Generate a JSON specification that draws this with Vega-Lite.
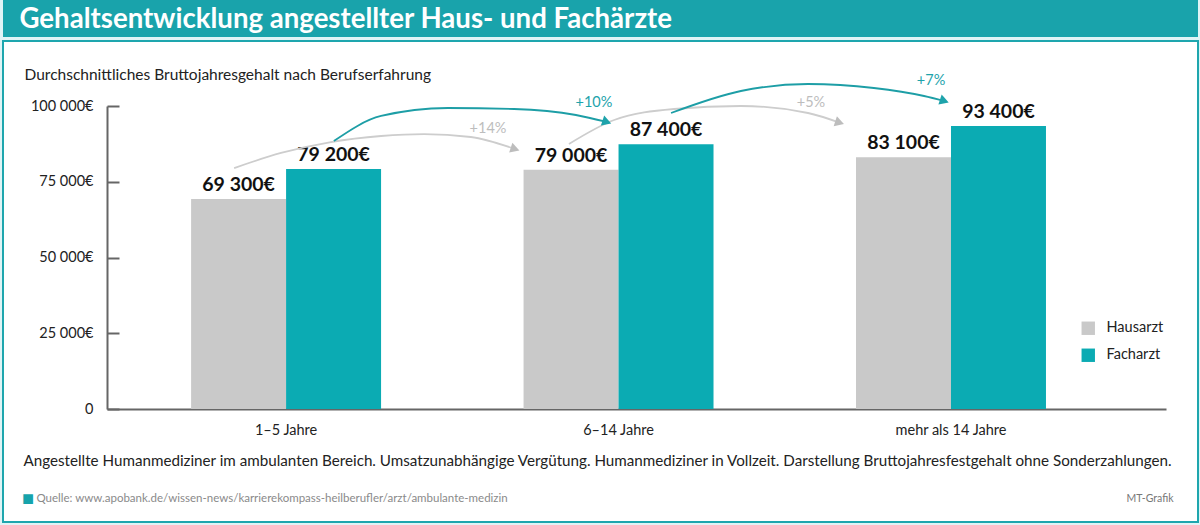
{
  "$schema": "https://vega.github.io/schema/vega-lite/v6.json",
  "background": "#dff4f6",
  "padding": {"left": 2, "right": 3, "top": 0, "bottom": 4},
  "spacing": 3,
  "config": {
    "font": "Lato",
    "locale": {"number": {"decimal": ",", "thousands": " ", "grouping": [3], "currency": ["", "€"]}},
    "view": {"stroke": null}
  },
  "datasets": {
    "gehalt": [
      {"erfahrung": "1–5 Jahre", "arzt": "Hausarzt", "euro": 69300},
      {"erfahrung": "1–5 Jahre", "arzt": "Facharzt", "euro": 79200},
      {"erfahrung": "6–14 Jahre", "arzt": "Hausarzt", "euro": 79000},
      {"erfahrung": "6–14 Jahre", "arzt": "Facharzt", "euro": 87400},
      {"erfahrung": "mehr als 14 Jahre", "arzt": "Hausarzt", "euro": 83100},
      {"erfahrung": "mehr als 14 Jahre", "arzt": "Facharzt", "euro": 93400}
    ],
    "boegen": [
      {"bogen": "H1", "arzt": "Hausarzt", "punkt": 1, "pos": -0.156, "euro": 79500},
      {"bogen": "H1", "arzt": "Hausarzt", "punkt": 2, "pos": -0.015, "euro": 84500},
      {"bogen": "H1", "arzt": "Hausarzt", "punkt": 3, "pos": 0.135, "euro": 88100},
      {"bogen": "H1", "arzt": "Hausarzt", "punkt": 4, "pos": 0.286, "euro": 90100},
      {"bogen": "H1", "arzt": "Hausarzt", "punkt": 5, "pos": 0.415, "euro": 90750},
      {"bogen": "H1", "arzt": "Hausarzt", "punkt": 6, "pos": 0.556, "euro": 89770},
      {"bogen": "H1", "arzt": "Hausarzt", "punkt": 7, "pos": 0.689, "euro": 85800},
      {"bogen": "F1", "arzt": "Facharzt", "punkt": 1, "pos": 0.144, "euro": 88450},
      {"bogen": "F1", "arzt": "Facharzt", "punkt": 2, "pos": 0.286, "euro": 96700},
      {"bogen": "F1", "arzt": "Facharzt", "punkt": 3, "pos": 0.487, "euro": 99340},
      {"bogen": "F1", "arzt": "Facharzt", "punkt": 4, "pos": 0.686, "euro": 99010},
      {"bogen": "F1", "arzt": "Facharzt", "punkt": 5, "pos": 0.872, "euro": 97030},
      {"bogen": "F1", "arzt": "Facharzt", "punkt": 6, "pos": 0.965, "euro": 94720},
      {"bogen": "H2", "arzt": "Hausarzt", "punkt": 1, "pos": 0.851, "euro": 87460},
      {"bogen": "H2", "arzt": "Hausarzt", "punkt": 2, "pos": 0.987, "euro": 95380},
      {"bogen": "H2", "arzt": "Hausarzt", "punkt": 3, "pos": 1.167, "euro": 99010},
      {"bogen": "H2", "arzt": "Hausarzt", "punkt": 4, "pos": 1.368, "euro": 100000},
      {"bogen": "H2", "arzt": "Hausarzt", "punkt": 5, "pos": 1.570, "euro": 97690},
      {"bogen": "H2", "arzt": "Hausarzt", "punkt": 6, "pos": 1.665, "euro": 94500},
      {"bogen": "F2", "arzt": "Facharzt", "punkt": 1, "pos": 1.158, "euro": 97690},
      {"bogen": "F2", "arzt": "Facharzt", "punkt": 2, "pos": 1.368, "euro": 104950},
      {"bogen": "F2", "arzt": "Facharzt", "punkt": 3, "pos": 1.570, "euro": 107260},
      {"bogen": "F2", "arzt": "Facharzt", "punkt": 4, "pos": 1.768, "euro": 105940},
      {"bogen": "F2", "arzt": "Facharzt", "punkt": 5, "pos": 1.919, "euro": 103300},
      {"bogen": "F2", "arzt": "Facharzt", "punkt": 6, "pos": 1.980, "euro": 101650}
    ],
    "zuwachs": [
      {"arzt": "Hausarzt", "label": "+14%", "pos": 0.6075, "euro": 92400},
      {"arzt": "Facharzt", "label": "+10%", "pos": 0.926, "euro": 101000},
      {"arzt": "Hausarzt", "label": "+5%", "pos": 1.579, "euro": 101000},
      {"arzt": "Facharzt", "label": "+7%", "pos": 1.940, "euro": 108250}
    ]
  },
  "vconcat": [
    {
      "width": 1195,
      "height": 37,
      "view": {"fill": "#19a3ab", "stroke": null},
      "data": {"values": [{"kopf": "Gehaltsentwicklung angestellter Haus- und Fachärzte"}]},
      "mark": {"type": "rect", "color": "#19a3ab"},
      "encoding": {
        "y": {
          "field": "kopf",
          "type": "nominal",
          "axis": {
            "title": "Gehaltsentwicklung angestellter Haus- und Fachärzte",
            "labels": false,
            "ticks": false,
            "domain": false,
            "grid": false,
            "minExtent": 0,
            "maxExtent": 0,
            "titleAngle": 0,
            "titleAlign": "left",
            "titleBaseline": "middle",
            "titleX": 16,
            "titleY": 19,
            "titleColor": "white",
            "titleFont": "Lato",
            "titleFontSize": 27.6,
            "titleFontWeight": "bold"
          }
        }
      }
    },
    {
      "width": 1195,
      "height": 481,
      "view": {"fill": "white", "stroke": "#1ea6ae", "strokeWidth": 2},
      "title": {
        "text": "■",
        "orient": "bottom",
        "anchor": "start",
        "frame": "group",
        "offset": -33,
        "dx": 19,
        "color": "#16a3ab",
        "fontSize": 20,
        "fontWeight": "normal"
      },
      "encoding": {
        "y": {
          "field": "euro",
          "type": "quantitative",
          "scale": {"domain": [0, 100000], "range": [368, 65], "nice": false, "zero": true},
          "axis": {
            "title": "Durchschnittliches Bruttojahresgehalt nach Berufserfahrung",
            "titleAngle": 0,
            "titleAlign": "left",
            "titleBaseline": "middle",
            "titleX": -83,
            "titleY": 33,
            "titleFontSize": 15.5,
            "titleFontWeight": "normal",
            "titleColor": "#222",
            "values": [0, 25000, 50000, 75000, 100000],
            "format": "$,d",
            "labelExpr": "datum.value === 0 ? '0' : datum.label",
            "labelFontSize": 14.5,
            "labelColor": "#222",
            "labelPadding": 26,
            "tickSize": -12,
            "tickWidth": 2,
            "tickColor": "#666",
            "domainColor": "#666",
            "domainWidth": 2,
            "grid": false,
            "offset": -104
          }
        }
      },
      "layer": [
        {
          "data": {"name": "gehalt"},
          "encoding": {
            "x": {
              "field": "erfahrung",
              "type": "nominal",
              "sort": ["1–5 Jahre", "6–14 Jahre", "mehr als 14 Jahre"],
              "scale": {"range": [104, 1163], "paddingInner": 0.4286, "paddingOuter": 0.307, "align": 0.412},
              "axis": {
                "title": "Angestellte Humanmediziner im ambulanten Bereich. Umsatzunabhängige Vergütung. Humanmediziner in Vollzeit. Darstellung Bruttojahresfestgehalt ohne Sonderzahlungen.",
                "titleX": 20,
                "titleY": 51,
                "titleAlign": "left",
                "titleAnchor": "start",
                "titleBaseline": "middle",
                "titleFontSize": 15.2,
                "titleFontWeight": "normal",
                "titleColor": "#222",
                "labelAngle": 0,
                "labelFontSize": 14.5,
                "labelColor": "#222",
                "labelPadding": 14,
                "ticks": false,
                "domainColor": "#666",
                "domainWidth": 2,
                "grid": false,
                "offset": -113
              }
            },
            "xOffset": {
              "field": "arzt",
              "type": "nominal",
              "sort": ["Hausarzt", "Facharzt"],
              "scale": {"paddingInner": 0, "paddingOuter": 0}
            }
          },
          "layer": [
            {
              "mark": {"type": "bar"},
              "encoding": {
                "color": {
                  "field": "arzt",
                  "type": "nominal",
                  "scale": {"domain": ["Hausarzt", "Facharzt"], "range": ["#c9c9c9", "#0babb3"]},
                  "legend": {
                    "orient": "none",
                    "legendX": 1078,
                    "legendY": 321,
                    "title": null,
                    "symbolType": "square",
                    "symbolSize": 180,
                    "symbolStrokeWidth": 0,
                    "labelFontSize": 14.5,
                    "labelColor": "#222",
                    "labelOffset": 11,
                    "rowPadding": 12,
                    "padding": 0
                  }
                }
              }
            },
            {
              "mark": {"type": "text", "baseline": "alphabetic", "dy": -8, "fontSize": 19.5, "fontWeight": "bold", "color": "#111"},
              "encoding": {
                "text": {"field": "euro", "type": "quantitative", "format": "$,d"}
              }
            }
          ]
        },
        {
          "encoding": {
            "x": {
              "field": "pos",
              "type": "quantitative",
              "scale": {"domain": [-0.5383, 2.6466], "range": [104, 1163], "nice": false, "zero": false},
              "axis": {
                "orient": "top",
                "title": "Quelle: www.apobank.de/wissen-news/karrierekompass-heilberufler/arzt/ambulante-medizin",
                "labels": false,
                "ticks": false,
                "domain": false,
                "grid": false,
                "titleX": 33,
                "titleY": 457,
                "titleAlign": "left",
                "titleBaseline": "middle",
                "titleFontSize": 11.5,
                "titleFontWeight": "normal",
                "titleColor": "#8a8a8a"
              }
            },
            "y": {
              "field": "euro",
              "type": "quantitative",
              "scale": {"domain": [0, 100000], "range": [368, 65], "nice": false, "zero": true},
              "axis": {
                "orient": "right",
                "title": "MT-Grafik",
                "labels": false,
                "ticks": false,
                "domain": false,
                "grid": false,
                "minExtent": 0,
                "maxExtent": 0,
                "titleAngle": 0,
                "titleAlign": "right",
                "titleBaseline": "middle",
                "titleX": -25,
                "titleY": 457,
                "titleFontSize": 10.5,
                "titleFontWeight": "normal",
                "titleColor": "#777"
              }
            }
          },
          "layer": [
            {
              "data": {"name": "boegen"},
              "mark": {"type": "line", "interpolate": "monotone", "strokeWidth": 1.8},
              "encoding": {
                "detail": {"field": "bogen"},
                "order": {"field": "punkt"},
                "stroke": {
                  "field": "arzt",
                  "type": "nominal",
                  "scale": {"domain": ["Hausarzt", "Facharzt"], "range": ["#cdcdcd", "#1d9ea6"]},
                  "legend": null
                }
              }
            },
            {
              "data": {"name": "boegen"},
              "transform": [
                {"joinaggregate": [{"op": "max", "field": "punkt", "as": "letzter"}], "groupby": ["bogen"]},
                {"filter": "datum.punkt === datum.letzter"}
              ],
              "mark": {"type": "point", "shape": "triangle-right", "filled": true, "size": 110, "angle": 18, "opacity": 1},
              "encoding": {
                "fill": {
                  "field": "arzt",
                  "type": "nominal",
                  "scale": {"domain": ["Hausarzt", "Facharzt"], "range": ["#bdbdbd", "#1ea3ab"]},
                  "legend": null
                }
              }
            },
            {
              "data": {"name": "zuwachs"},
              "mark": {"type": "text", "baseline": "middle", "fontSize": 14.5},
              "encoding": {
                "text": {"field": "label"},
                "fill": {"field": "arzt", "type": "nominal", "legend": null}
              }
            }
          ]
        }
      ],
      "resolve": {
        "scale": {"x": "independent", "y": "independent"},
        "axis": {"x": "independent", "y": "independent"}
      }
    }
  ]
}
